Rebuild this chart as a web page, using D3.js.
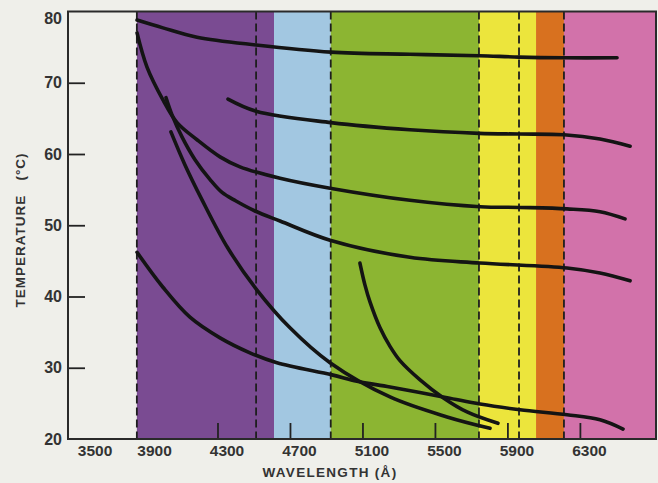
<!DOCTYPE html>
<html>
<head>
<meta charset="utf-8">
<script src="https://cdn.jsdelivr.net/npm/d3@7"></script>
<style>
  html, body { margin: 0; padding: 0; background: #efefea; }
  svg { display: block; }
  text { font-family: "Liberation Sans", Arial, sans-serif; font-weight: bold; fill: #333; }
</style>
</head>
<body>
<svg id="chart" width="658" height="483"></svg>
<script>
// ---------- data ----------
const xTickLabels = [3500, 3900, 4300, 4700, 5100, 5500, 5900, 6300];
const xTickMarks  = [4300, 4700, 5100, 5500, 5900, 6300];
const yTickLabels = [20, 30, 40, 50, 60, 70, 80];
const yTickMarks  = [30, 40, 50, 60, 70];

// spectral bands (wavelength, Å)
const bandNames = ["violet", "blue", "green", "yellow", "orange", "red"];
const bandStart = [3855, 4612, 4925, 5743, 6058, 6212];
const bandEnd   = [4612, 4925, 5743, 6058, 6212, 6720];
const dashedAt  = [3855, 4513, 4925, 5743, 5964, 6212];

// curves: [wavelength Å, temperature °C]
const curveA = [[3856,78.8],[3999,77.7],[4187,76.4],[4513,75.3],[4926,74.3],[5362,74.0],[5743,73.8],[5964,73.6],[6212,73.5],[6505,73.5]];
const curveB = [[4358,67.7],[4513,66.0],[4926,64.4],[5362,63.4],[5743,62.9],[5964,62.8],[6212,62.7],[6411,62.1],[6577,61.1]];
const curveC = [[3856,77.0],[3911,72.2],[3999,67.6],[4077,64.4],[4187,62.0],[4314,59.6],[4424,58.2],[4645,56.6],[4921,55.2],[5362,53.5],[5749,52.6],[5969,52.5],[6229,52.3],[6411,51.9],[6549,50.9]];
const curveD = [[4016,67.9],[4049,65.5],[4104,62.4],[4176,59.2],[4259,56.4],[4325,54.6],[4402,53.4],[4507,52.0],[4645,50.6],[4921,47.9],[5362,45.5],[5749,44.7],[6229,44.0],[6411,43.3],[6577,42.2]];
const curveG = [[4043,63.1],[4120,58.5],[4214,53.6],[4357,46.8],[4518,40.9],[4700,35.6],[4921,30.7],[5252,25.9],[5567,23.1],[5804,21.5]];
const curveE = [[3856,46.2],[3999,41.3],[4148,37.1],[4314,34.2],[4479,32.1],[4628,30.7],[4932,29.0],[5070,28.1],[5252,27.3],[5567,25.8],[5749,24.9],[5969,24.1],[6229,23.4],[6411,22.7],[6538,21.4]];
const curveH = [[5086,44.7],[5114,41.6],[5142,39.2],[5197,35.6],[5252,33.0],[5307,31.0],[5418,28.3],[5545,25.8],[5677,23.8],[5848,22.2]];
const curves = [curveA, curveB, curveC, curveD, curveG, curveE, curveH];

// ---------- style ----------
const bandColors = ["#7a4b92", "#a2c7e1", "#8cb532", "#ece53c", "#d8711f", "#d272aa"];

const svg = d3.select("#chart");
const pL = 68, pR = 656, pT = 11.5, pB = 439;

const x = d3.scaleLinear().domain([3475, 6720]).range([pL, pR]);
const y = d3.scaleLinear().domain([20, 80]).range([pB, pT]);

// bands
svg.append("g").selectAll("rect").data(bandNames).join("rect")
  .attr("x", (d, i) => x(bandStart[i]))
  .attr("width", (d, i) => x(bandEnd[i]) - x(bandStart[i]))
  .attr("y", pT).attr("height", pB - pT)
  .attr("fill", (d, i) => bandColors[i]);

// dashed lines
svg.append("g").selectAll("line").data(dashedAt).join("line")
  .attr("x1", d => x(d)).attr("x2", d => x(d))
  .attr("y1", pT).attr("y2", pB)
  .attr("stroke", "#1e1e1e").attr("stroke-width", 1.8)
  .attr("stroke-dasharray", "8,4");

// x tick marks (inward)
svg.append("g").attr("transform", `translate(0,${pB})`)
  .call(d3.axisTop(x).tickValues(xTickMarks).tickSize(16).tickFormat(""))
  .call(g => g.select(".domain").remove())
  .call(g => g.selectAll("line").attr("stroke", "#222").attr("stroke-width", 1.8));

// x labels
svg.append("g").attr("transform", `translate(0,${pB})`)
  .call(d3.axisBottom(x).tickValues(xTickLabels).tickSize(0).tickPadding(6).tickFormat(d3.format("d")))
  .call(g => g.select(".domain").remove())
  .call(g => g.selectAll("text")
    .attr("font-size", 15.5)
    .attr("dx", d => d === 3500 ? 22 : 9)
    .style("font-family", '"Liberation Sans", Arial, sans-serif').style("font-weight", "bold").attr("fill", "#333"));

// y tick marks (inward)
svg.append("g").attr("transform", `translate(${pL},0)`)
  .call(d3.axisRight(y).tickValues(yTickMarks).tickSize(17).tickFormat(""))
  .call(g => g.select(".domain").remove())
  .call(g => g.selectAll("line").attr("stroke", "#222").attr("stroke-width", 1.8));

// y labels
svg.append("g").attr("transform", `translate(${pL},0)`)
  .call(d3.axisLeft(y).tickValues(yTickLabels).tickSize(0).tickPadding(6).tickFormat(d3.format("d")))
  .call(g => g.select(".domain").remove())
  .call(g => g.selectAll("text")
    .attr("font-size", 16)
    .attr("dy", d => d === 80 ? "0.72em" : "0.32em")
    .style("font-family", '"Liberation Sans", Arial, sans-serif').style("font-weight", "bold").attr("fill", "#333"));

// curves
const line = d3.line().x(d => x(d[0])).y(d => y(d[1])).curve(d3.curveCatmullRom.alpha(0.5));
svg.append("g").selectAll("path").data(curves).join("path")
  .attr("d", line)
  .attr("fill", "none").attr("stroke", "#141414")
  .attr("stroke-width", 3.6).attr("stroke-linecap", "round");

// frame
svg.append("rect").attr("x", pL).attr("y", pT)
  .attr("width", pR - pL).attr("height", pB - pT)
  .attr("fill", "none").attr("stroke", "#2a2a2a").attr("stroke-width", 2);

// axis titles
svg.append("text")
  .attr("x", 330).attr("y", 477)
  .attr("text-anchor", "middle").attr("font-size", 13.5)
  .attr("letter-spacing", 1.3)
  .text("WAVELENGTH (Å)");

svg.append("text")
  .attr("transform", "translate(25,230) rotate(-90)")
  .attr("text-anchor", "middle").attr("font-size", 13.5)
  .attr("letter-spacing", 1)
  .style("white-space", "pre")
  .text("TEMPERATURE   (°C)");
</script>
</body>
</html>
